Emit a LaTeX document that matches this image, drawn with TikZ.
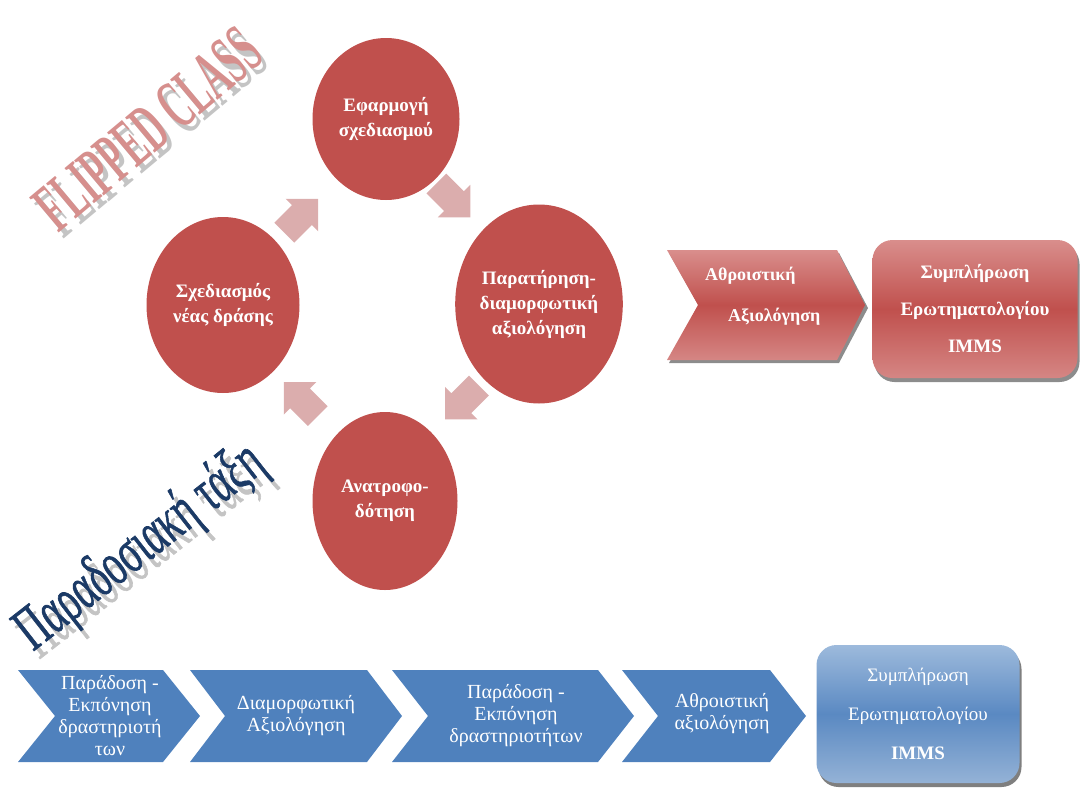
\documentclass[tikz,border=0pt]{standalone}
\usepackage{fontspec}
\setmainfont{Liberation Serif}
\newfontfamily\heavyserif[FakeBold=1.2]{Liberation Serif}
\usetikzlibrary{shapes.geometric,shadows,calc}

\definecolor{circred}{HTML}{C0504D}
\definecolor{redlighttop}{HTML}{D98E8C}
\definecolor{redlightbot}{HTML}{D58684}
\definecolor{bluelighttop}{HTML}{9DBADC}
\definecolor{bluelightbot}{HTML}{94B2D6}
\definecolor{bluemid}{HTML}{5A89C2}
\definecolor{arrpink}{HTML}{DBADAD}
\definecolor{chevblue}{HTML}{4F81BD}
\definecolor{titlered}{HTML}{D68F8D}
\definecolor{titlenavy}{HTML}{1B3A66}
\definecolor{shadegray}{HTML}{C4C4C4}

% blue step chevron: left x, top y, body width, height, point depth
\newcommand\bluechevron[5]{%
  \fill[chevblue] (#1,#2) -- ++(#3,0) -- ++(#5,#4/2) -- ++(-#5,#4/2)
    -- ++(-#3,0) -- ++(#5,-#4/2) -- cycle;}
% short block arrow centred on a named coordinate, turned by an angle
\newcommand\blockarrow[2]{%
  \fill[arrpink, shift={(#1)}, rotate=#2]
    (-24,-14) -- (1,-14) -- (1,-23) -- (24,0) -- (1,23) -- (1,14) -- (-24,14) -- cycle;}

\begin{document}
\begin{tikzpicture}[x=1pt,y=-1pt,
  stage/.style={ellipse, fill=circred, text=white, inner sep=0pt,
    font=\bfseries\fontsize{19}{25}\selectfont, align=center},
  bluetext/.style={text=white, align=center, inner sep=0pt,
    font=\fontsize{20}{22}\selectfont},
  redbox/.style={rectangle, rounded corners=20pt, inner sep=0pt,
    top color=redlighttop, bottom color=redlightbot, middle color=circred,
    drop shadow={shadow xshift=2pt, shadow yshift=-4pt, fill=black, opacity=0.45},
    text=white, align=center, font=\bfseries\fontsize{19}{37}\selectfont},
  bluebox/.style={rectangle, rounded corners=20pt, inner sep=0pt,
    top color=bluelighttop, bottom color=bluelightbot, middle color=bluemid,
    drop shadow={shadow xshift=2pt, shadow yshift=-4pt, fill=black, opacity=0.5},
    text=white, align=center, font=\fontsize{19}{39}\selectfont},
  titleA/.style={inner sep=0pt, font=\bfseries\fontsize{70}{74}\selectfont},
  titleB/.style={inner sep=0pt, font=\heavyserif\fontsize{62}{66}\selectfont},
]
\useasboundingbox (0,0) rectangle (1081,787);

% headings with their grey shadows
\node[titleA, text=shadegray, rotate=40] at (153,135) {\scalebox{0.5}[1]{FLIPPED CLASS}};
\node[titleA, text=titlered, rotate=40] (flipped) at (148,129) {\scalebox{0.5}[1]{FLIPPED CLASS}};
\node[titleB, text=shadegray, rotate=38] at (147,556) {\scalebox{0.62}[1]{Παραδοσιακή τάξη}};
\node[titleB, text=titlenavy, rotate=38] (traditional) at (141,548) {\scalebox{0.62}[1]{Παραδοσιακή τάξη}};

% the cycle of the flipped class
\node[stage, minimum width=147pt, minimum height=162pt] (apply) at (386,119) {Εφαρμογή\\σχεδιασμού};
\node[stage, minimum width=153pt, minimum height=176pt] (plan) at (223,305) {Σχεδιασμός\\νέας δράσης};
\node[stage, minimum width=152pt, minimum height=199pt] (observe) at (539,304) {Παρατήρηση-\\διαμορφωτική\\αξιολόγηση};
\node[stage, minimum width=145pt, minimum height=178pt] (feedback) at (385,501) {Ανατροφο-\\δότηση};

\coordinate (a1) at ($(plan)!0.48!(apply)$);
\coordinate (a2) at ($(apply)!0.44!(observe)$);
\coordinate (a3) at ($(observe)!0.5!(feedback)$);
\coordinate (a4) at ($(feedback)!0.52!(plan)$);
\blockarrow{a1}{45}
\blockarrow{a2}{-45}
\blockarrow{a3}{-135}
\blockarrow{a4}{135}

% summative assessment and questionnaire, flipped class
\fill[black, opacity=0.45] (669,253) -- ++(170,0) -- ++(29,55) -- ++(-29,55) -- ++(-170,0) -- ++(31,-55) -- cycle;
\shade[top color=redlighttop, bottom color=redlightbot, middle color=circred]
  (667,250) -- ++(170,0) -- ++(28,55) -- ++(-28,55) -- ++(-170,0) -- ++(31,-55) -- cycle;
\node[anchor=west, text=white, align=left, inner sep=0pt,
  font=\bfseries\fontsize{18}{41}\selectfont] (summative) at (705,296)
  {Αθροιστική\\\hspace*{23pt}Αξιολόγηση};
\node[redbox, minimum width=205pt, minimum height=138pt] (immsred) at (975,309)
  {Συμπλήρωση\\Ερωτηματολογίου\\IMMS};

% the traditional class sequence
\bluechevron{18}{670}{145}{92}{37}
\bluechevron{190}{670}{177}{92}{35}
\bluechevron{392}{670}{206}{92}{36}
\bluechevron{622}{670}{148}{92}{36}
\node[bluetext] (b1) at (110,716) {Παράδοση -\\Εκπόνηση\\δραστηριοτή\\των};
\node[bluetext] (b2) at (296,716) {Διαμορφωτική\\Αξιολόγηση};
\node[bluetext] (b3) at (516,716) {Παράδοση -\\Εκπόνηση\\δραστηριοτήτων};
\node[bluetext] (b4) at (722,714) {Αθροιστική\\αξιολόγηση};
\node[bluebox, minimum width=203pt, minimum height=138pt] (immsblue) at (918,714)
  {Συμπλήρωση\\Ερωτηματολογίου\\\textbf{IMMS}};
\end{tikzpicture}
\end{document}
